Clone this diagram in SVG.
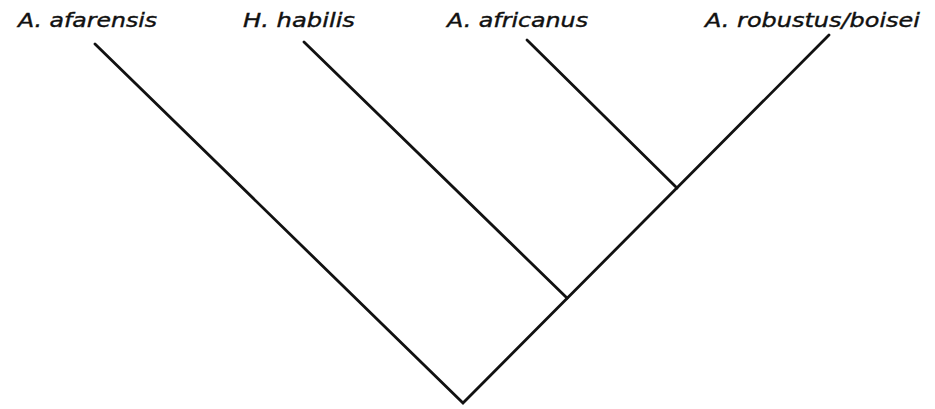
<svg xmlns="http://www.w3.org/2000/svg" width="935" height="409" viewBox="0 0 935 409">
<style>
.lbl{font-family:"DejaVu Sans","Liberation Sans",sans-serif;font-style:italic;font-size:20px;fill:#111;stroke:#111;stroke-width:0.4}
.br{stroke:#111;stroke-width:2.8;fill:none;stroke-linecap:round;stroke-linejoin:miter}
</style>
<rect width="935" height="409" fill="#fff"/>
<g id="connectors">
<polyline class="br" points="95,44 463,403 829,35"/>
<line class="br" x1="304" y1="42" x2="567" y2="298"/>
<line class="br" x1="527" y1="40" x2="677" y2="188"/>
</g>
<g id="n-afarensis"><text class="lbl" x="18" y="27" textLength="139" lengthAdjust="spacingAndGlyphs">A. afarensis</text></g>
<g id="n-habilis"><text class="lbl" x="243" y="27" textLength="112" lengthAdjust="spacingAndGlyphs">H. habilis</text></g>
<g id="n-africanus"><text class="lbl" x="447" y="27" textLength="141" lengthAdjust="spacingAndGlyphs">A. africanus</text></g>
<g id="n-robustus"><text class="lbl" x="705" y="27" textLength="215" lengthAdjust="spacingAndGlyphs">A. robustus/boisei</text></g>
</svg>
